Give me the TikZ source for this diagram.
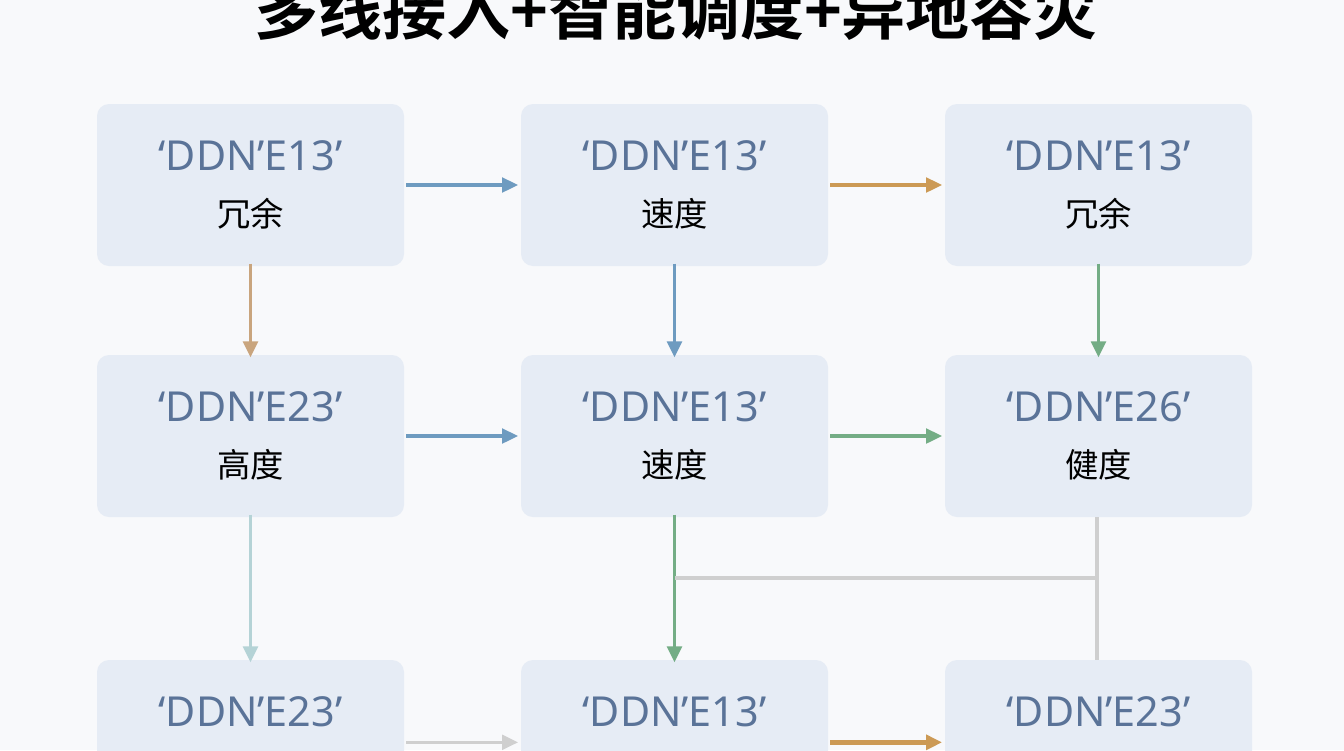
\documentclass[tikz,border=0pt]{standalone}
\usepackage{fontspec}
\setmainfont{Noto Sans CJK SC}
\newfontfamily\cjkb{Noto Sans CJK SC}[BoldFont=* Bold]
\newfontfamily\latf{Noto Sans}
\usetikzlibrary{arrows.meta}
\definecolor{boxf}{HTML}{E6ECF5}
\definecolor{txtb}{HTML}{5A7398}
\definecolor{ablue}{HTML}{6E9BC0}
\definecolor{aoran}{HTML}{CC9A55}
\definecolor{atan}{HTML}{C9A57E}
\definecolor{agreen}{HTML}{74AD85}
\definecolor{ateal}{HTML}{B5D3D6}
\definecolor{agray}{HTML}{CFCFCF}
\definecolor{bg}{HTML}{F8F9FB}
\tikzset{
 box/.style={fill=boxf,rounded corners=9pt,minimum width=230.25pt,minimum height=121.5pt,inner sep=0,align=center,font=\fontsize{25}{42}\selectfont},
 arr/.style={-{Triangle[length=12pt,width=11pt]},line width=2.4pt}
}
\newcommand{\bx}[2]{{\latf\fontsize{31}{42}\selectfont\color{txtb}‘DDN’#1’}\\{#2}}
\begin{document}
\begin{tikzpicture}[x=0.75pt,y=-0.75pt]
\useasboundingbox (0,0) rectangle (1344,750);
\clip (0,0) rectangle (1344,750);
\fill[bg] (0,0) rectangle (1344,750);
\node[font=\cjkb\bfseries\fontsize{48}{56}\selectfont] (title) at (676,10) {多线接入+智能调度+异地容灾};
\node[box] (a1) at (250.5,185) {\bx{E13}{冗余}};
\node[box] (b1) at (674.5,185) {\bx{E13}{速度}};
\node[box] (c1) at (1098.5,185) {\bx{E13}{冗余}};
\node[box] (a2) at (250.5,436) {\bx{E23}{高度}};
\node[box] (b2) at (674.5,436) {\bx{E13}{速度}};
\node[box] (c2) at (1098.5,436) {\bx{E26}{健度}};
\node[box] (a3) at (250.5,741) {\bx{E23}{\phantom{高度}}};
\node[box] (b3) at (674.5,741) {\bx{E13}{\phantom{高度}}};
\node[box] (c3) at (1098.5,741) {\bx{E23}{\phantom{高度}}};
\draw[arr,ablue] (a1.east) ++(2,0) -- ([xshift=-2]b1.west);
\draw[arr,aoran] (b1.east) ++(2,0) -- ([xshift=-2]c1.west);
\draw[arr,atan] ([yshift=2]a1.south) -- ([yshift=-2]a2.north);
\draw[arr,ablue] ([yshift=2]b1.south) -- ([yshift=-2]b2.north);
\draw[arr,agreen] ([yshift=2]c1.south) -- ([yshift=-2]c2.north);
\draw[arr,ablue] (a2.east) ++(2,0) -- ([xshift=-2]b2.west);
\draw[arr,agreen] (b2.east) ++(2,0) -- ([xshift=-2]c2.west);
\draw[arr,ateal] ([yshift=2]a2.south) -- ([yshift=-2]a3.north);
\draw[arr,agreen] ([yshift=2]b2.south) -- ([yshift=-2]b3.north);
\coordinate (j1) at (674.5,578);
\coordinate (j2) at (1097,578);
\draw[agray,line width=2.4pt] (c2.south -| j2) -- (c3.north -| j2);
\draw[agray,line width=2.4pt] (j1) -- (j2);
\draw[arr,agray] ([yshift=-1]a3.east) ++(2,0) -- ([xshift=-2,yshift=-1]b3.west);
\draw[arr,aoran,line width=3.4pt] ([yshift=-1]b3.east) ++(2,0) -- ([xshift=-2,yshift=-1]c3.west);
\end{tikzpicture}
\end{document}
